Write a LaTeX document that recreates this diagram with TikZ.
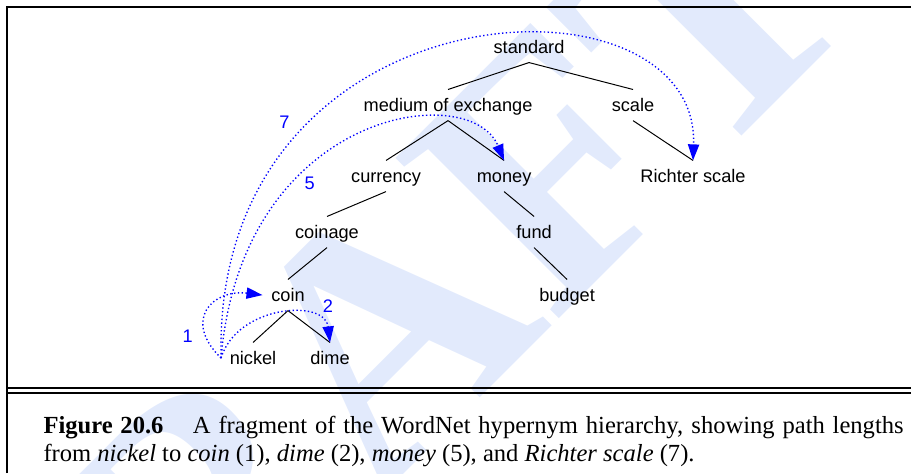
\documentclass[tikz,border=0pt]{standalone}
\usepackage{fontspec}
\setmainfont{Liberation Serif}
\setsansfont{Liberation Sans}
\newfontfamily\wmfont{Liberation Serif}
\usetikzlibrary{positioning, arrows.meta}
\definecolor{wmblue}{RGB}{226,234,252}

\begin{document}
\begin{tikzpicture}[node distance=0.83cm, auto,
    word/.style={font=\sffamily\fontsize{7.4}{9}\selectfont, text height=5.6pt, text depth=0pt, minimum height=0.4cm},
    len/.style={font=\sffamily\fontsize{7.4}{9}\selectfont, text=blue, inner sep=0pt},
    hop/.style={blue, densely dotted, line width=0.55pt, -{Triangle[length=2.3mm, width=1.6mm]}}]
        \useasboundingbox (0,0) rectangle (13.027,-6.764);
        \clip (0,0) rectangle (13.027,-6.764);

        % Watermark
        \node (draft) [rotate=45, anchor=base west, inner sep=0, text=wmblue, font=\wmfont\bfseries\fontsize{142.26}{142.26}\selectfont] at (0.257,-12.298) {DRAFT};

        % Frame
        \draw[line width=0.8pt] (0.1,-6.764) -- (0.1,-0.1) -- (13.027,-0.1);
        \draw[line width=0.8pt] (0.1,-5.548) -- (13.027,-5.548);
        \draw[line width=0.8pt] (0.1,-5.620) -- (13.027,-5.620);

        % Nodes
        \node (standard) [word] at (7.565,-0.672) {standard};
        \node (medium) [word, below of=standard, xshift=-1.158cm] {medium of exchange};
        \node (scale) [word, below of=standard, xshift=1.487cm] {scale};
        \node (currency) [word, below of=medium, node distance=1.015cm, xshift=-0.887cm] {currency};
        \node (money) [word, below of=medium, node distance=1.015cm, xshift=0.801cm] {money};
        \node (richter) [word, below of=scale, node distance=1.015cm, xshift=0.858cm] {Richter scale};
        \node (coinage) [word, below of=currency, node distance=0.801cm, xshift=-0.844cm] {coinage};
        \node (fund) [word, below of=money, node distance=0.801cm, xshift=0.429cm] {fund};
        \node (coin) [word, below of=coinage, node distance=0.901cm, xshift=-0.558cm] {coin};
        \node (budget) [word, below of=fund, node distance=0.901cm, xshift=0.472cm] {budget};
        \node (nickel) [word, below of=coin, node distance=0.901cm, xshift=-0.500cm] {nickel};
        \node (dime) [word, below of=coin, node distance=0.901cm, xshift=0.601cm] {dime};

        % Hypernym links
        \draw (standard.south) -- (medium.north);
        \draw (standard.south) -- (scale.north);
        \draw (medium.south) -- (currency.north);
        \draw (medium.south) -- (money.north);
        \draw (scale.south) -- (richter.north);
        \draw (currency.south) -- (coinage.north);
        \draw (money.south) -- (fund.north);
        \draw (coinage.south) -- (coin.north);
        \draw (fund.south) -- (budget.north);
        \draw (coin.south) -- (nickel.north);
        \draw (coin.south) -- (dime.north);

        % Path lengths
        \draw[hop] (nickel.west) .. controls +(-0.558,0.543) and +(-0.715,0.086) .. (coin.west) node[len, pos=.2, left=5pt] (one) {1};
        \draw[hop] (nickel.west) .. controls +(0.229,0.758) and +(-0.072,0.629) .. (dime.north) node[len, pos=.8, above right=3.7pt and 1.6pt] (two) {2};
        \draw[hop] (nickel.west) .. controls +(0.300,3.546) and +(-0.486,1.173) .. (money.north) node[len, pos=.32, right=5pt] (five) {5};
        \draw[hop] (nickel.west) .. controls +(-0.129,5.4) and +(0.100,2.85) .. (richter.north) node[len, pos=.28, left=7.5pt] (seven) {7};

        % Caption
        \node (caption) [anchor=north west, inner sep=0, text width=12.3cm, align=justify, font=\fontsize{10}{11.4}\selectfont] at (0.615,-5.95) {\textbf{Figure 20.6}\hspace{1.2em}A fragment of the WordNet hypernym hierarchy, showing path lengths\linebreak from \emph{nickel} to \emph{coin} (1), \emph{dime} (2), \emph{money} (5), and \emph{Richter scale} (7).};
    \end{tikzpicture}
\end{document}
